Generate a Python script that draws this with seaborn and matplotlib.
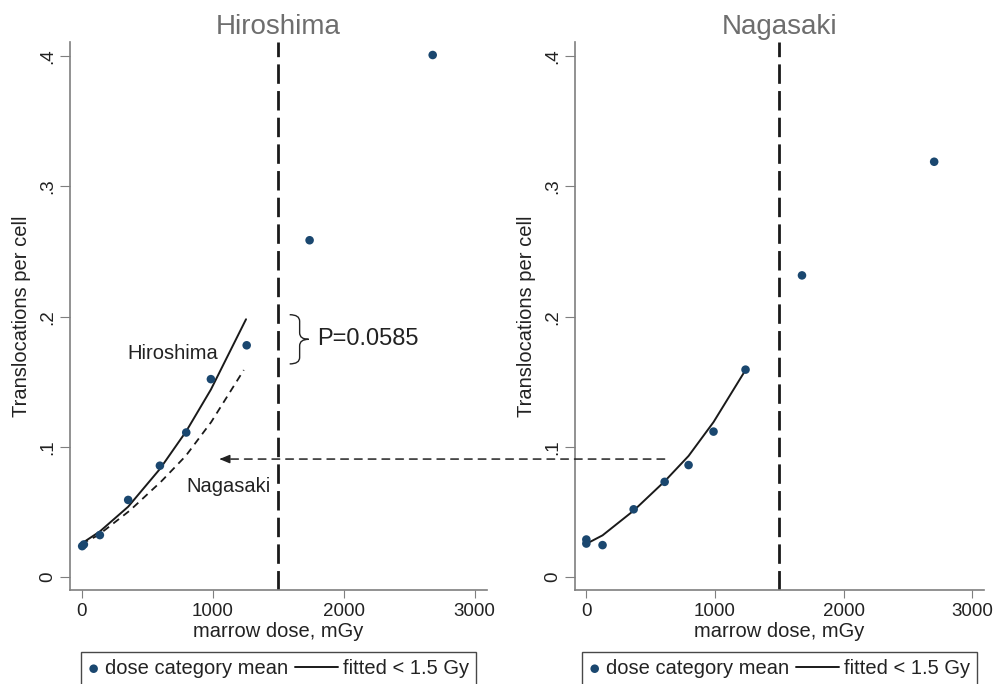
import numpy as np
import pandas as pd
import matplotlib
matplotlib.use("Agg")
import matplotlib.pyplot as plt
import seaborn as sns
from matplotlib.patches import ConnectionPatch, PathPatch
from matplotlib.path import Path
from matplotlib.legend_handler import HandlerLine2D

# data
hiro_dose = [5, 18, 140, 356, 598, 799, 987, 1260, 1740, 2679]
hiro_mean = [0.0237, 0.0250, 0.0322, 0.0592, 0.0855, 0.111, 0.152, 0.178, 0.2587, 0.401]
hiro_fit_dose = [5, 140, 356, 598, 799, 987, 1255]
hiro_fit = [0.026, 0.035, 0.054, 0.083, 0.112, 0.144, 0.198]

naga_dose = [0, 0, 126, 368, 609, 795, 989, 1238, 1677, 2705]
naga_mean = [0.0288, 0.0257, 0.0245, 0.052, 0.0731, 0.086, 0.1117, 0.1593, 0.2317, 0.319]
naga_fit_dose = [0, 126, 368, 609, 795, 989, 1238]
naga_fit = [0.0255, 0.032, 0.051, 0.0735, 0.093, 0.119, 0.159]

cutoff = 1500
p_text = "P=0.0585"
x_ticks = [0, 1000, 2000, 3000]
y_ticks = [0, 0.1, 0.2, 0.3, 0.4]
y_ticklabels = ["0", ".1", ".2", ".3", ".4"]

sns.set_style("ticks")
plt.rcParams["font.family"] = ["Liberation Sans", "DejaVu Sans"]

navy = "#1a476f"
spine_col = "#7f7f7f"

fig = plt.figure(figsize=(9.94, 6.84), dpi=100)
ax1 = fig.add_axes([0.0704, 0.1374, 0.4195, 0.8012])
ax2 = fig.add_axes([0.5785, 0.1374, 0.4115, 0.8012])

panels = [
    (ax1, "Hiroshima", hiro_dose, hiro_mean, hiro_fit_dose, hiro_fit),
    (ax2, "Nagasaki", naga_dose, naga_mean, naga_fit_dose, naga_fit),
]

for ax, title, dose, mean, fdose, fit in panels:
    pts = pd.DataFrame({"dose": dose, "mean": mean})
    fitdf = pd.DataFrame({"dose": fdose, "fit": fit})
    sns.scatterplot(data=pts, x="dose", y="mean", ax=ax, color=navy, s=38,
                    edgecolor="none", zorder=3, label="dose category mean")
    sns.lineplot(data=fitdf, x="dose", y="fit", ax=ax, color="#1a1a1a", lw=1.4,
                 sort=False, estimator=None, label="fitted < 1.5 Gy", zorder=2)
    ax.axvline(cutoff, color="#1a1a1a", lw=2.0, ls=(0, (7, 2.6)), zorder=1)
    ax.set_xlim(-88, 3093)
    ax.set_ylim(-0.01, 0.411)
    ax.set_xticks(x_ticks)
    ax.set_yticks(y_ticks)
    ax.set_yticklabels(y_ticklabels)
    ax.tick_params(axis="y", labelrotation=90, labelsize=13.5, length=7,
                   color=spine_col, labelcolor="#222222", pad=3)
    ax.tick_params(axis="x", labelsize=13.5, length=6, color=spine_col,
                   labelcolor="#222222", pad=3)
    for lab in ax.get_yticklabels():
        lab.set_va("center")
    ax.set_xlabel("marrow dose, mGy", fontsize=14.5, color="#222222", labelpad=1.5)
    ax.set_ylabel("Translocations per cell", fontsize=14.5, color="#222222", labelpad=6)
    ax.set_title(title, fontsize=20, color="#6e6e6e", pad=6)
    sns.despine(ax=ax)
    for s in ["left", "bottom"]:
        ax.spines[s].set_color(spine_col)
        ax.spines[s].set_linewidth(1.2)
    leg = ax.legend(loc="upper center", bbox_to_anchor=(0.5, -0.113), ncol=2,
                    fontsize=14.5, frameon=True, fancybox=False, borderaxespad=0,
                    handlelength=0.6, handletextpad=0.25, columnspacing=1.9,
                    borderpad=0.35, scatterpoints=1,
                    handler_map={plt.Line2D: HandlerLine2D(xpad=-1.55)})
    leg.get_frame().set_edgecolor("#1a1a1a")
    leg.get_frame().set_linewidth(1.0)
    for t in leg.get_texts():
        t.set_color("#222222")

# Nagasaki fit overlaid on the Hiroshima panel
sns.lineplot(x=naga_fit_dose, y=naga_fit, ax=ax1, color="#1a1a1a", lw=1.3,
             ls=(0, (4, 3)), sort=False, estimator=None, legend=False, zorder=2)

ax1.text(695, 0.172, "Hiroshima", fontsize=14.5, ha="center", va="center", color="#222222")
ax1.text(1122, 0.0695, "Nagasaki", fontsize=14.5, ha="center", va="center", color="#222222")
ax1.text(1800, 0.1826, p_text, fontsize=17, ha="left", va="center", color="#222222")

# curly brace
x_tip, x_body, x_point = 1588, 1664, 1733
y_top, y_mid, y_bot, r = 0.2015, 0.1826, 0.1637, 0.005
verts = [(x_tip, y_top), (x_body, y_top), (x_body, y_top - r),
         (x_body, y_mid + r), (x_body, y_mid), (x_point, y_mid),
         (x_body, y_mid), (x_body, y_mid - r),
         (x_body, y_bot + r), (x_body, y_bot), (x_tip, y_bot)]
codes = [Path.MOVETO, Path.CURVE3, Path.CURVE3,
         Path.LINETO, Path.CURVE3, Path.CURVE3,
         Path.CURVE3, Path.CURVE3,
         Path.LINETO, Path.CURVE3, Path.CURVE3]
ax1.add_patch(PathPatch(Path(verts, codes), fill=False, lw=1.0, color="#222222"))

# dashed arrow from Nagasaki panel to Hiroshima panel
arrow_y = 0.0906
con = ConnectionPatch(xyA=(609, arrow_y), coordsA=ax2.transData,
                      xyB=(1080, arrow_y), coordsB=ax1.transData,
                      arrowstyle="-", ls=(0, (5, 4)), lw=1.1, color="#222222")
fig.add_artist(con)
ax1.annotate("", xy=(1031, arrow_y), xytext=(1100, arrow_y),
             arrowprops=dict(arrowstyle="-|>,head_length=0.6,head_width=0.25",
                             color="#222222", lw=1.1))

fig.savefig("out.png", dpi=100)
